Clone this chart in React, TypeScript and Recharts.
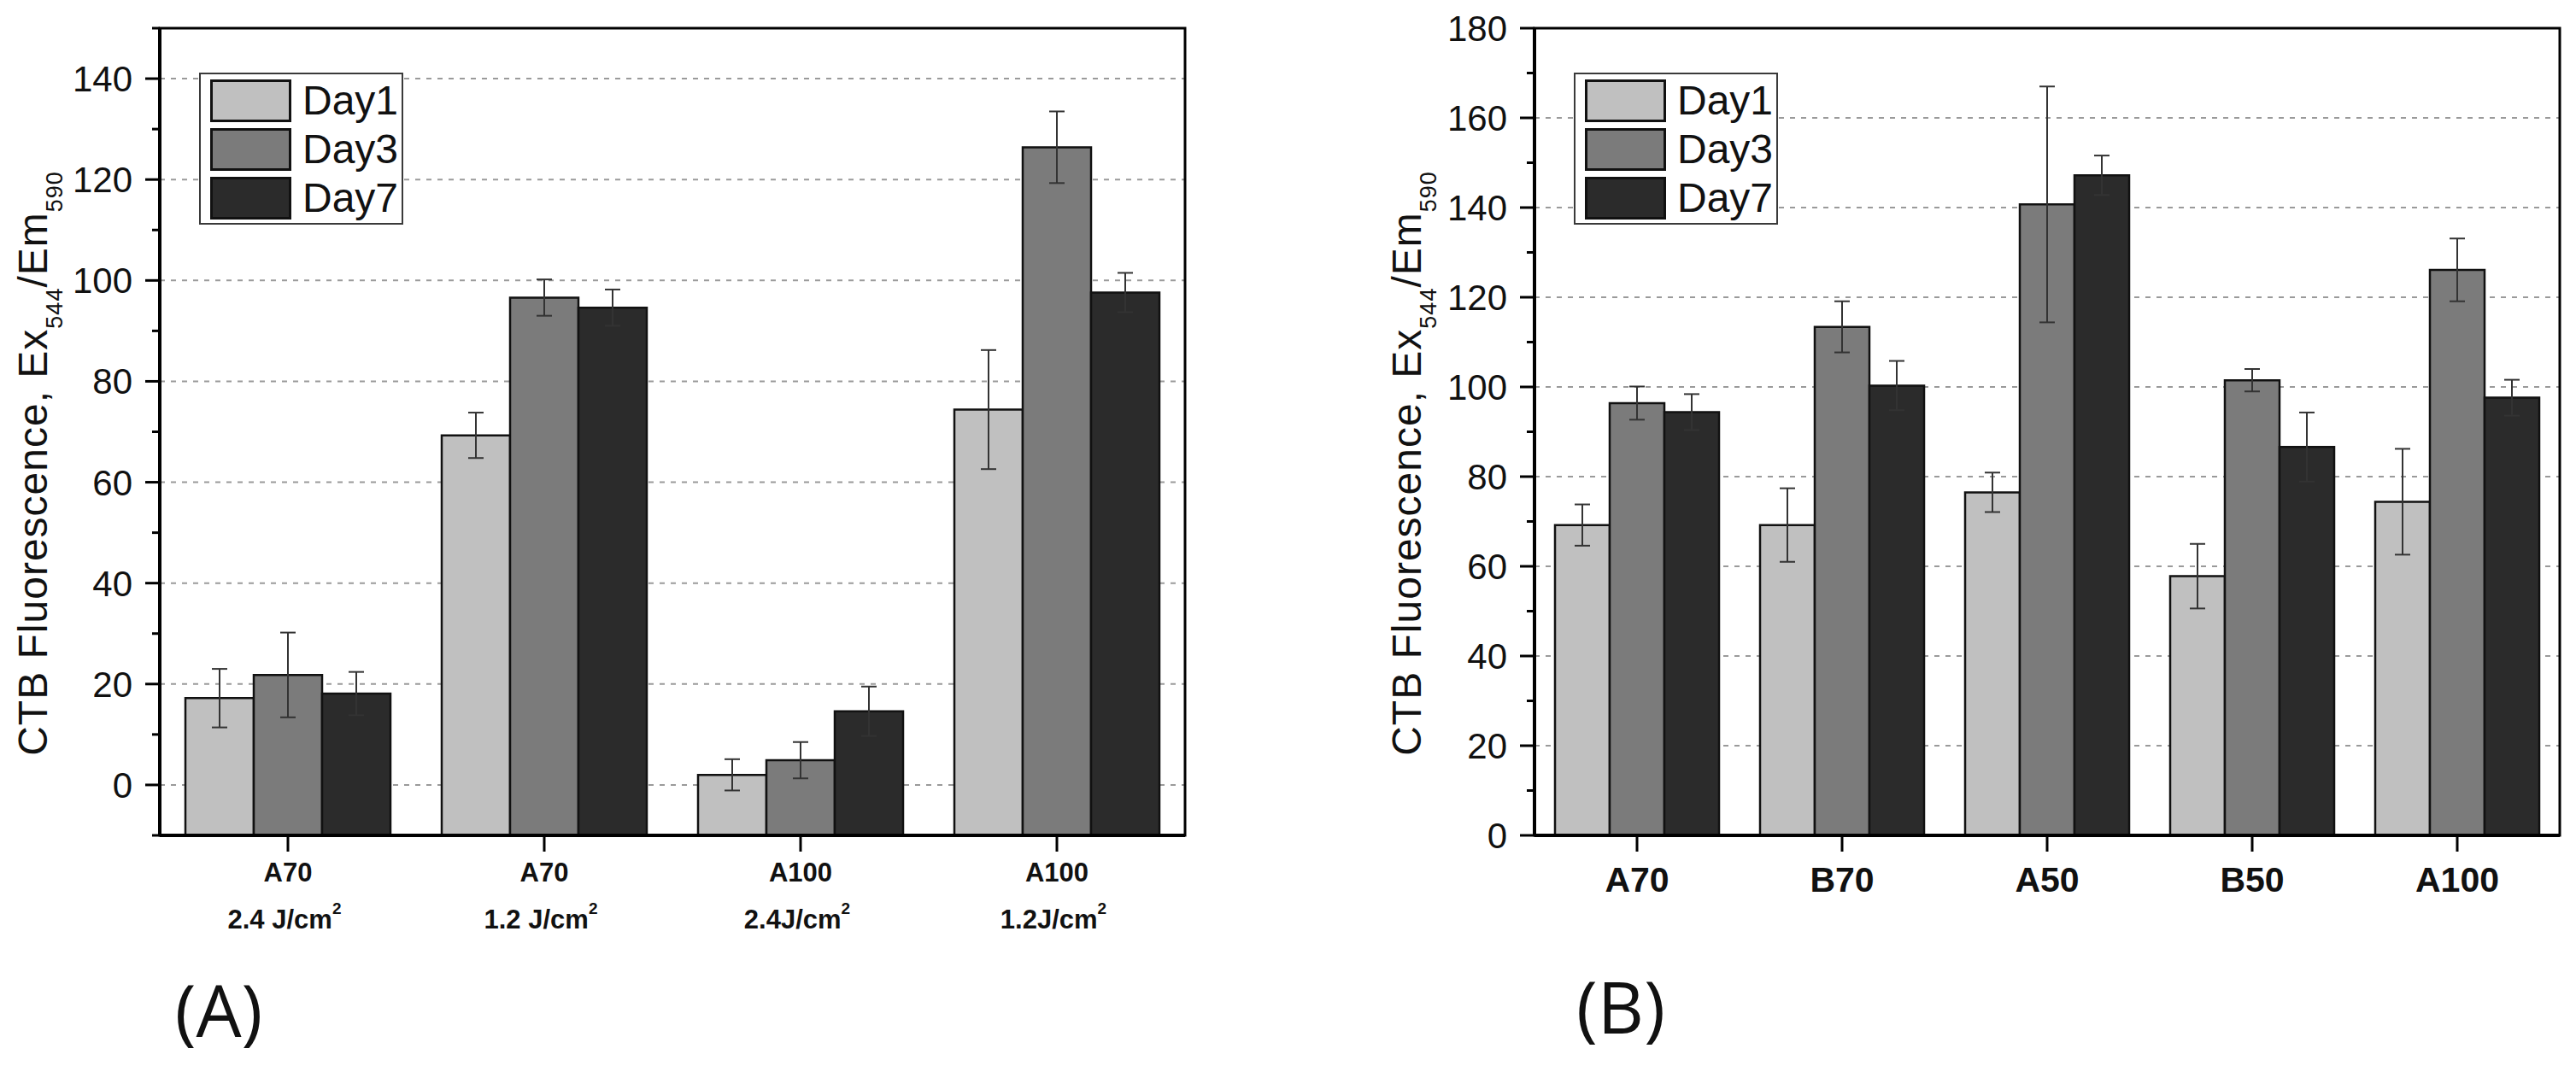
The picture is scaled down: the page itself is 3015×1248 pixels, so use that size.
import React from 'react';
import { BarChart, Bar, XAxis, YAxis, CartesianGrid, ErrorBar, Legend, Label, ReferenceArea } from 'recharts';

// ---------- shared ----------
const SERIES_NAMES = ['Day1', 'Day3', 'Day7'];
const SERIES_KEYS = ['day1', 'day3', 'day7'];
const ERR_KEYS = ['err1', 'err3', 'err7'];
const SERIES_COLORS = ['#c0c0c0', '#7b7b7b', '#2b2b2b'];

// ---------- panel A ----------
const categoriesA = ['A70', 'A70', 'A100', 'A100'];
const doseA = ['2.4 J/cm', '1.2 J/cm', '2.4J/cm', '1.2J/cm'];
const day1A = [17.2, 69.3, 2.0, 74.4];
const day3A = [21.8, 96.6, 4.9, 126.4];
const day7A = [18.1, 94.6, 14.6, 97.6];
const err1A = [5.8, 4.5, 3.1, 11.8];
const err3A = [8.4, 3.6, 3.6, 7.1];
const err7A = [4.3, 3.6, 4.9, 3.9];
const yMajorA = [0, 20, 40, 60, 80, 100, 120, 140];
const yMinorA = [-10, 10, 30, 50, 70, 90, 110, 130, 150];
const yDomainA: [number, number] = [-10, 150];

// ---------- panel B ----------
const categoriesB = ['A70', 'B70', 'A50', 'B50', 'A100'];
const day1B = [69.2, 69.2, 76.5, 57.8, 74.4];
const day3B = [96.4, 113.4, 140.7, 101.5, 126.1];
const day7B = [94.4, 100.3, 147.2, 86.6, 97.6];
const err1B = [4.6, 8.2, 4.4, 7.2, 11.8];
const err3B = [3.7, 5.7, 26.3, 2.5, 7.0];
const err7B = [4.0, 5.5, 4.4, 7.7, 4.0];
const yMajorB = [0, 20, 40, 60, 80, 100, 120, 140, 160, 180];
const yMinorB = [10, 30, 50, 70, 90, 110, 130, 150, 170];
const yDomainB: [number, number] = [0, 180];

const NARROW = "'Liberation Sans Narrow', 'Arial Narrow', 'Liberation Sans', Arial, sans-serif";
const SANS = "'Liberation Sans', Arial, sans-serif";

const TICK_MARGIN = 15;
const TICK_MAJOR = 17;
const TICK_MINOR = 9;

function buildRows(cats: string[], d1: number[], d3: number[], d7: number[], e1: number[], e3: number[], e7: number[]) {
  return cats.map((c, i) => ({
    key: `${i}`,
    label: c,
    day1: d1[i],
    day3: d3[i],
    day7: d7[i],
    err1: e1[i],
    err3: e3[i],
    err7: e7[i],
  }));
}

const rowsA = buildRows(categoriesA, day1A, day3A, day7A, err1A, err3A, err7A);
const rowsB = buildRows(categoriesB, day1B, day3B, day7B, err1B, err3B, err7B);

const YTick = (props: any) => {
  const { x, y, payload, majors } = props;
  const isMajor = majors.includes(payload.value);
  const x2 = x + TICK_MARGIN + TICK_MAJOR;
  const x1 = x2 - (isMajor ? TICK_MAJOR : TICK_MINOR);
  return (
    <g>
      <line x1={x1} x2={x2} y1={y} y2={y} stroke="#000" strokeWidth={3} />
      {isMajor && (
        <text x={x} y={y} dy={15} textAnchor="end" fontSize={42} fontFamily={NARROW} fill="#111">
          {payload.value}
        </text>
      )}
    </g>
  );
};

const XTickA = (props: any) => {
  const { x, y, payload } = props;
  const i = props.index ?? payload.index;
  return (
    <text x={x} y={y} textAnchor="middle" fontFamily={SANS} fontWeight="bold" fill="#111">
      <tspan x={x} y={y + 35} fontSize={31}>{categoriesA[i]}</tspan>
      <tspan x={x - 4} y={y + 90} fontSize={31}>
        {doseA[i]}
        <tspan fontSize={19} dy={-17}>2</tspan>
      </tspan>
    </text>
  );
};

const XTickB = (props: any) => {
  const { x, y, payload } = props;
  const i = props.index ?? payload.index;
  return (
    <text x={x} y={y + 47} textAnchor="middle" fontFamily={SANS} fontWeight="bold" fontSize={41} fill="#111">
      {categoriesB[i]}
    </text>
  );
};

const YLabel = (props: any) => {
  const { viewBox, xOffset } = props;
  const cx = viewBox.x + xOffset;
  const cy = viewBox.y + viewBox.height / 2 + 37;
  return (
    <text
      x={cx}
      y={cy}
      transform={`rotate(-90 ${cx} ${cy})`}
      textAnchor="middle"
      fontFamily={SANS}
      fontSize={48}
      letterSpacing={1}
      fill="#111"
    >
      CTB Fluorescence, Ex
      <tspan fontSize={27} dy={18}>544</tspan>
      <tspan dy={-18}>/Em</tspan>
      <tspan fontSize={27} dy={18}>590</tspan>
    </text>
  );
};

const LegendBox = () => (
  <div
    style={{
      border: '2px solid #3a3a3a',
      background: '#fff',
      width: 239,
      height: 178,
      boxSizing: 'border-box',
      padding: '6px 0 0 11px',
    }}
  >
    {SERIES_NAMES.map((n, i) => (
      <div key={n} style={{ display: 'flex', alignItems: 'center', height: 50, marginBottom: 7 }}>
        <div
          style={{
            width: 95,
            height: 50,
            background: SERIES_COLORS[i],
            border: '3px solid #111',
            boxSizing: 'border-box',
          }}
        />
        <span style={{ marginLeft: 13, fontFamily: NARROW, fontSize: 48, color: '#111', lineHeight: 1 }}>{n}</span>
      </div>
    ))}
  </div>
);

type PanelProps = {
  left: number;
  width: number;
  yAxisWidth: number;
  rightMargin: number;
  rows: any[];
  domain: [number, number];
  majors: number[];
  minors: number[];
  xTick: any;
  labelX: number;
};

const Panel = ({ left, width, yAxisWidth, rightMargin, rows, domain, majors, minors, xTick, labelX }: PanelProps) => {
  const allTicks = [...majors, ...minors].sort((a, b) => a - b);
  return (
    <div style={{ position: 'absolute', left, top: 0, width, height: 1248 }}>
      <BarChart
        width={width}
        height={1248}
        data={rows}
        margin={{ top: 33, right: rightMargin, bottom: 120, left: 0 }}
        barCategoryGap="10%"
        barGap={0}
      >
        <CartesianGrid
          vertical={false}
          horizontalValues={majors}
          stroke="#9a9a9a"
          strokeWidth={2}
          strokeDasharray="6 7"
        />
        <XAxis
          dataKey="key"
          height={150}
          tick={xTick}
          tickSize={19}
          tickMargin={0}
          tickLine={{ stroke: '#000', strokeWidth: 3 }}
          axisLine={{ stroke: '#000', strokeWidth: 4 }}
          interval={0}
        />
        <YAxis
          type="number"
          domain={domain}
          ticks={allTicks}
          interval={0}
          width={yAxisWidth}
          tickSize={TICK_MAJOR}
          tickMargin={TICK_MARGIN}
          tickLine={false}
          tick={(p: any) => <YTick {...p} majors={majors} />}
          axisLine={{ stroke: '#000', strokeWidth: 4 }}
          allowDataOverflow
        >
          <Label content={(p: any) => <YLabel {...p} xOffset={labelX} />} />
        </YAxis>
        <Legend
          layout="vertical"
          align="center"
          verticalAlign="middle"
          wrapperStyle={{ position: 'absolute', left: yAxisWidth + 46, top: 85, width: 239, height: 178 }}
          content={() => <LegendBox />}
        />
        {SERIES_KEYS.map((k, i) => (
          <Bar
            key={k}
            name={SERIES_NAMES[i]}
            dataKey={(d: any) => [domain[0], d[k]]}
            fill={SERIES_COLORS[i]}
            stroke="#111"
            strokeWidth={2.5}
            isAnimationActive={false}
          >
            <ErrorBar dataKey={ERR_KEYS[i]} width={9} stroke="#333" strokeWidth={2} direction="y" />
          </Bar>
        ))}
        <ReferenceArea
          y1={domain[0]}
          y2={domain[1]}
          fill="none"
          fillOpacity={0}
          stroke="#000"
          strokeWidth={3}
          ifOverflow="visible"
        />
      </BarChart>
    </div>
  );
};

export default function App() {
  return (
    <div style={{ position: 'absolute', left: 0, top: 0, width: 3015, height: 1248, background: '#fff' }}>
      <Panel
        left={0}
        width={1500}
        yAxisWidth={187}
        rightMargin={113}
        rows={rowsA}
        domain={yDomainA}
        majors={yMajorA}
        minors={yMinorA}
        xTick={(p: any) => <XTickA {...p} />}
        labelX={55}
      />
      <Panel
        left={1500}
        width={1515}
        yAxisWidth={296}
        rightMargin={19}
        rows={rowsB}
        domain={yDomainB}
        majors={yMajorB}
        minors={yMinorB}
        xTick={(p: any) => <XTickB {...p} />}
        labelX={163}
      />
      <svg
        width={3015}
        height={1248}
        style={{ position: 'absolute', left: 0, top: 0, pointerEvents: 'none' }}
      >
        <text x={256} y={1214} textAnchor="middle" fontFamily="'Open Sans', 'Noto Sans', sans-serif" fontSize={84} fill="#111">
          (A)
        </text>
        <text x={1897} y={1210} textAnchor="middle" fontFamily="'Open Sans', 'Noto Sans', sans-serif" fontSize={84} fill="#111">
          (B)
        </text>
      </svg>
    </div>
  );
}
